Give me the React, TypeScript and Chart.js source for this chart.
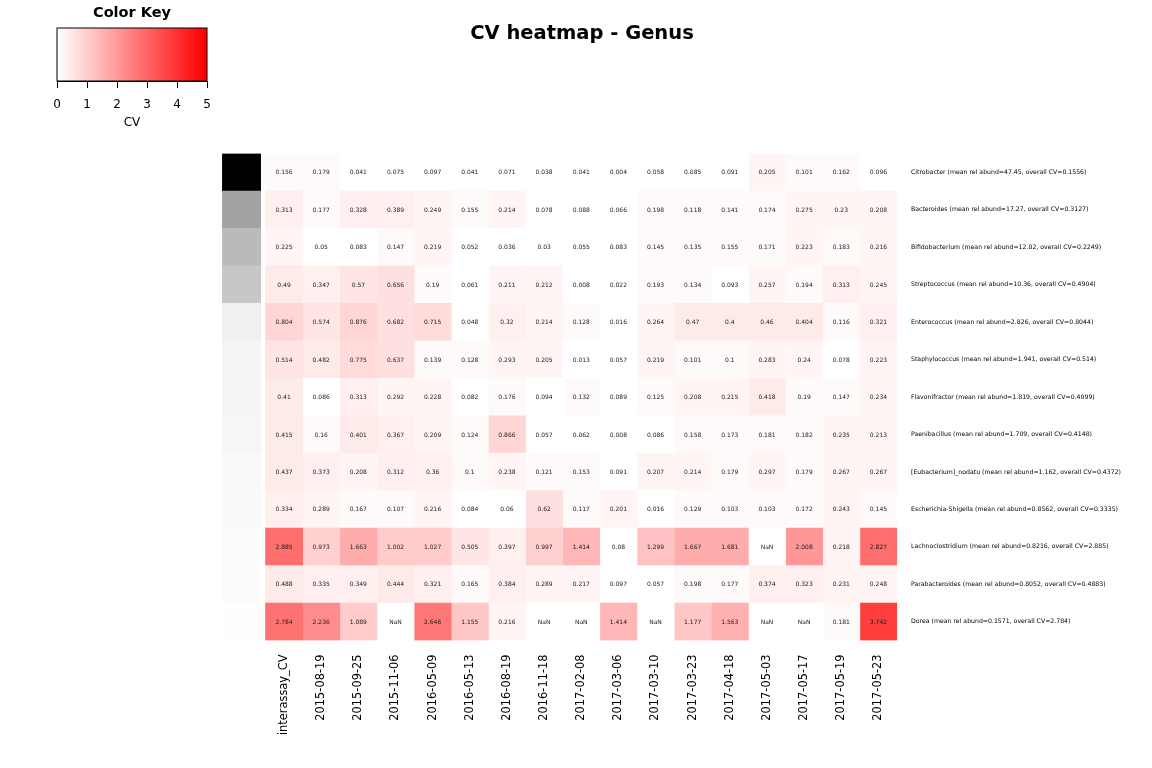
import React, { useEffect, useRef } from "react";
import { Chart, registerables } from "chart.js";

Chart.register(...registerables);
Chart.defaults.font.family = "'DejaVu Sans', sans-serif";
Chart.defaults.color = "#000";

const columns = [
  "interassay_CV", "2015-08-19", "2015-09-25", "2015-11-06", "2016-05-09", "2016-05-13",
  "2016-08-19", "2016-11-18", "2017-02-08", "2017-03-06", "2017-03-10", "2017-03-23",
  "2017-04-18", "2017-05-03", "2017-05-17", "2017-05-19", "2017-05-23",
];

const genera = [
  "Citrobacter", "Bacteroides", "Bifidobacterium", "Streptococcus", "Enterococcus",
  "Staphylococcus", "Flavonifractor", "Paenibacillus", "[Eubacterium]_nodatu",
  "Escherichia-Shigella", "Lachnoclostridium", "Parabacteroides", "Dorea",
];

const meanAbund = [47.45, 17.27, 12.82, 10.36, 2.826, 1.941, 1.819, 1.709, 1.162, 0.8562, 0.8216, 0.8052, 0.1571];
const overallCV = [0.1556, 0.3127, 0.2249, 0.4904, 0.8044, 0.514, 0.4099, 0.4148, 0.4372, 0.3335, 2.885, 0.4883, 2.784];

// one row per genus, one value per column
const cv = [
  [0.156, 0.179, 0.041, 0.075, 0.097, 0.041, 0.071, 0.038, 0.041, 0.004, 0.058, 0.085, 0.091, 0.205, 0.101, 0.162, 0.096],
  [0.313, 0.177, 0.328, 0.389, 0.249, 0.155, 0.214, 0.078, 0.088, 0.066, 0.198, 0.118, 0.141, 0.174, 0.275, 0.23, 0.208],
  [0.225, 0.05, 0.083, 0.147, 0.219, 0.052, 0.036, 0.03, 0.055, 0.083, 0.145, 0.135, 0.155, 0.171, 0.223, 0.183, 0.216],
  [0.49, 0.347, 0.57, 0.656, 0.19, 0.061, 0.211, 0.212, 0.008, 0.022, 0.193, 0.134, 0.093, 0.257, 0.194, 0.313, 0.245],
  [0.804, 0.574, 0.876, 0.682, 0.715, 0.048, 0.32, 0.214, 0.128, 0.016, 0.264, 0.47, 0.4, 0.46, 0.404, 0.116, 0.321],
  [0.514, 0.482, 0.775, 0.637, 0.139, 0.128, 0.293, 0.205, 0.013, 0.057, 0.219, 0.101, 0.1, 0.283, 0.24, 0.078, 0.223],
  [0.41, 0.086, 0.313, 0.292, 0.228, 0.082, 0.176, 0.094, 0.132, 0.089, 0.125, 0.208, 0.215, 0.418, 0.19, 0.147, 0.234],
  [0.415, 0.16, 0.401, 0.367, 0.209, 0.124, 0.866, 0.057, 0.062, 0.008, 0.086, 0.158, 0.173, 0.181, 0.182, 0.235, 0.213],
  [0.437, 0.373, 0.208, 0.312, 0.36, 0.1, 0.238, 0.121, 0.153, 0.091, 0.207, 0.214, 0.179, 0.297, 0.179, 0.267, 0.267],
  [0.334, 0.289, 0.167, 0.107, 0.216, 0.084, 0.06, 0.62, 0.117, 0.201, 0.016, 0.129, 0.103, 0.103, 0.172, 0.243, 0.145],
  [2.885, 0.973, 1.663, 1.002, 1.027, 0.505, 0.397, 0.997, 1.414, 0.08, 1.299, 1.667, 1.681, NaN, 2.008, 0.218, 2.827],
  [0.488, 0.335, 0.349, 0.444, 0.321, 0.165, 0.384, 0.289, 0.217, 0.097, 0.057, 0.198, 0.177, 0.374, 0.323, 0.231, 0.248],
  [2.784, 2.236, 1.089, NaN, 2.646, 1.155, 0.216, NaN, NaN, 1.414, NaN, 1.177, 1.563, NaN, NaN, 0.181, 3.742],
];

const keyTicks = [0, 1, 2, 3, 4, 5];
const keyBins = Array.from({ length: 50 }, (_, i) => i / 10);

// white -> red in 0.1 wide bins over 0..5
function cellColor(v: number) {
  if (!Number.isFinite(v)) return "#ffffff";
  const k = Math.min(49, Math.max(0, Math.floor(v * 10)));
  const g = Math.round(255 * (1 - k / 49));
  return `rgb(255,${g},${g})`;
}

function sideGray(a: number) {
  const g = Math.round(255 * (1 - a / Math.max(...meanAbund)));
  return `rgb(${g},${g},${g})`;
}

const rowLabels = genera.map(
  (g, i) => `${g} (mean rel abund=${meanAbund[i]}, overall CV=${overallCV[i]})`
);

const cellText = {
  id: "cellText",
  afterDatasetsDraw(chart: any) {
    const ctx = chart.ctx;
    ctx.save();
    ctx.font = "6px 'DejaVu Sans', sans-serif";
    ctx.fillStyle = "#1a1a1a";
    ctx.textAlign = "center";
    ctx.textBaseline = "middle";
    columns.forEach((_, c) => {
      const meta = chart.getDatasetMeta(c);
      meta.data.forEach((el: any, r: number) => {
        const p = el.getCenterPoint();
        ctx.fillText(String(cv[r][c]), p.x, p.y + 0.5);
      });
    });
    ctx.restore();
  },
};

const keyFrame = {
  id: "keyFrame",
  afterDraw(chart: any) {
    const { ctx, chartArea: a } = chart;
    ctx.save();
    ctx.strokeStyle = "#000";
    ctx.lineWidth = 1;
    ctx.strokeRect(a.left, a.top, a.right - a.left, a.bottom - a.top);
    ctx.restore();
  },
};

function Heatmap() {
  const ref = useRef<HTMLCanvasElement>(null);
  useEffect(() => {
    if (!ref.current) return;
    const datasets: any[] = columns.map((col, c) => ({
      label: col,
      data: genera.map(() => [c, c + 1]),
      backgroundColor: genera.map((_, r) => cellColor(cv[r][c])),
      grouped: false,
      barPercentage: 1,
      categoryPercentage: 1,
      borderWidth: 0,
    }));
    datasets.push({
      label: "side",
      data: genera.map(() => [-1.16, -0.13]),
      backgroundColor: meanAbund.map(sideGray),
      grouped: false,
      barPercentage: 1,
      categoryPercentage: 1,
      borderWidth: 0,
    });
    const chart = new Chart(ref.current, {
      type: "bar",
      data: { labels: rowLabels, datasets },
      options: {
        indexAxis: "y",
        animation: false,
        responsive: false,
        layout: { padding: { left: 12, right: 0, top: 0, bottom: 0 } },
        plugins: {
          legend: { display: false },
          tooltip: { enabled: false },
          title: {
            display: true,
            text: "CV heatmap - Genus",
            color: "#000",
            font: { size: 19.5, weight: "bold" },
            padding: { top: 22.5, bottom: 107.6 },
          },
        },
        scales: {
          x: {
            type: "linear",
            position: "bottom",
            min: -1.2,
            max: 17,
            grid: { display: false, drawTicks: false },
            border: { display: false },
            ticks: {
              autoSkip: false,
              minRotation: 90,
              maxRotation: 90,
              padding: 14,
              color: "#000",
              font: { size: 11.4 },
              callback: (_v: any, i: number) => columns[i],
            },
            afterBuildTicks: (s: any) => {
              s.ticks = columns.map((_, i) => ({ value: i + 0.5 }));
            },
            afterFit: (s: any) => {
              s.height = 127.5;
            },
          },
          y: {
            type: "category",
            position: "right",
            grid: { display: false, drawTicks: false },
            border: { display: false },
            ticks: { padding: 14, color: "#000", font: { size: 6.2 } },
            afterFit: (s: any) => {
              s.width = 255;
            },
          },
          yl: {
            type: "linear",
            axis: "y",
            position: "left",
            display: true,
            grid: { display: false, drawTicks: false },
            border: { display: false },
            ticks: { display: false },
            afterFit: (s: any) => {
              s.width = 208.9;
            },
          },
        },
      } as any,
      plugins: [cellText],
    });
    return () => chart.destroy();
  }, []);
  return <canvas ref={ref} width={1152} height={768} style={{ position: "absolute", left: 0, top: 0 }} />;
}

function ColorKey() {
  const ref = useRef<HTMLCanvasElement>(null);
  useEffect(() => {
    if (!ref.current) return;
    const chart = new Chart(ref.current, {
      type: "bar",
      data: {
        datasets: [
          {
            data: keyBins.map((b) => ({ x: b + 0.05, y: 1 })),
            backgroundColor: keyBins.map((b) => cellColor(b + 0.05)),
            barPercentage: 1,
            categoryPercentage: 1,
            borderWidth: 0,
          },
        ],
      },
      options: {
        animation: false,
        responsive: false,
        layout: { padding: { left: 57, right: 53, top: 0, bottom: 0 } },
        plugins: {
          legend: { display: false },
          tooltip: { enabled: false },
          title: {
            display: true,
            text: "Color Key",
            color: "#000",
            font: { size: 14.5, weight: "bold" },
            padding: { top: 5, bottom: 5.6 },
          },
        },
        scales: {
          x: {
            type: "linear",
            min: 0,
            max: 5,
            offset: false,
            grid: {
              display: true,
              offset: false,
              drawOnChartArea: false,
              drawTicks: true,
              tickLength: 7,
              color: "#000",
            },
            border: { display: true, color: "#000" },
            ticks: { padding: 10, color: "#000", font: { size: 12 } },
            afterBuildTicks: (s: any) => {
              s.ticks = keyTicks.map((v) => ({ value: v }));
            },
            title: { display: true, text: "CV", color: "#000", font: { size: 12 }, padding: { top: 0, bottom: 5 } },
            afterFit: (s: any) => {
              s.height = 54;
            },
          },
          y: { display: false, min: 0, max: 1 },
        },
      } as any,
      plugins: [keyFrame],
    });
    return () => chart.destroy();
  }, []);
  return <canvas ref={ref} width={260} height={135} style={{ position: "absolute", left: 0, top: 0 }} />;
}

export default function App() {
  return (
    <div style={{ position: "absolute", left: 0, top: 0, width: 1152, height: 768, background: "#fff" }}>
      <Heatmap />
      <ColorKey />
    </div>
  );
}
